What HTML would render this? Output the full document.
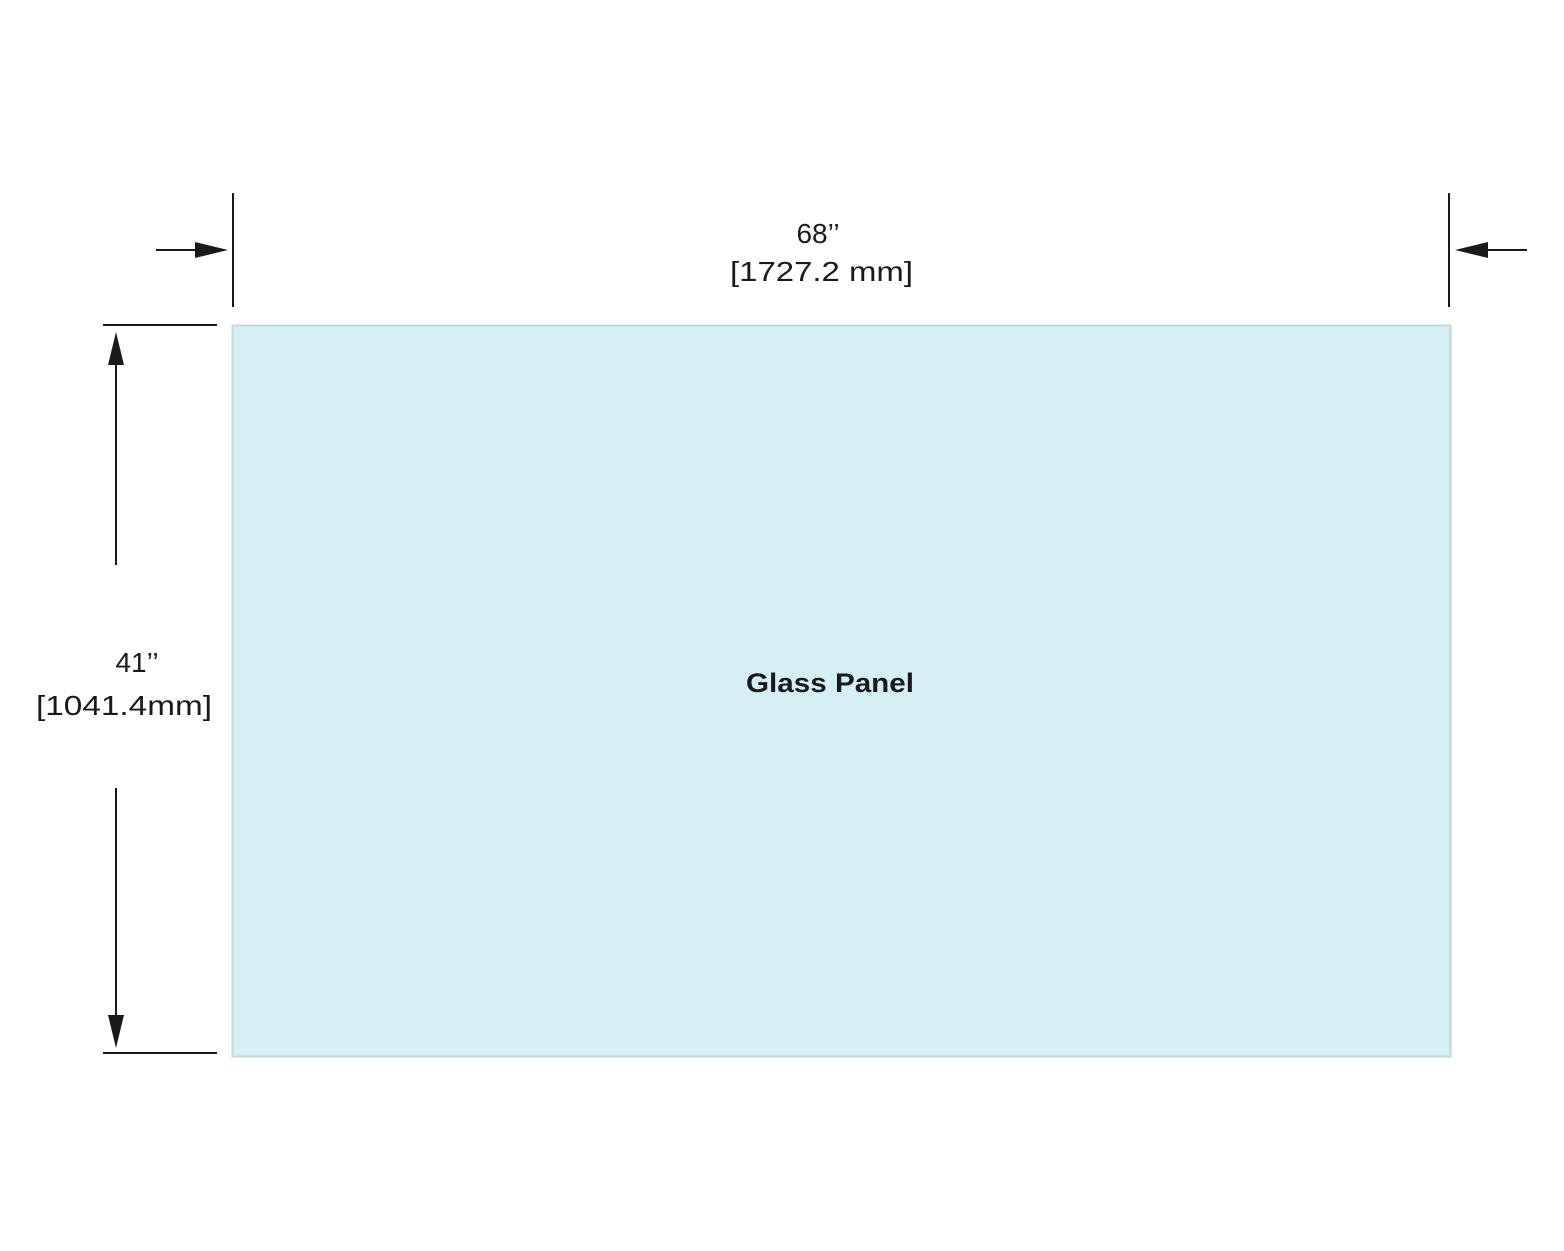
<!DOCTYPE html>
<html><head><meta charset="utf-8"><style>
html,body{margin:0;padding:0;background:#fff}
svg{display:block}
text{font-family:"Liberation Sans",sans-serif;fill:#1a1a1a}
</style></head><body>
<svg width="1564" height="1251" viewBox="0 0 1564 1251" xmlns="http://www.w3.org/2000/svg">
<rect x="232.5" y="325.5" width="1218" height="731" fill="#d4f0f5" stroke="#c2d9d9" stroke-width="2"/>
<g stroke="#1a1a1a" stroke-width="2" fill="none">
<line x1="233" y1="193" x2="233" y2="307"/>
<line x1="1449" y1="193" x2="1449" y2="307"/>
<line x1="156" y1="250" x2="200" y2="250"/>
<line x1="1485" y1="250" x2="1527" y2="250"/>
<line x1="103" y1="325" x2="217" y2="325"/>
<line x1="103" y1="1053" x2="217" y2="1053"/>
<line x1="116" y1="360" x2="116" y2="565"/>
<line x1="116" y1="788" x2="116" y2="1020"/>
</g>
<g fill="#1a1a1a">
<polygon points="195,242 228,250 195,258"/>
<polygon points="1488,242 1455,250 1488,258"/>
<polygon points="108,365 116,332 124,365"/>
<polygon points="108,1015 116,1048 124,1015"/>
</g>
<text x="818" y="243" font-size="28" text-anchor="middle">68’’</text>
<text x="730" y="281" font-size="28" textLength="183" lengthAdjust="spacingAndGlyphs">[1727.2 mm]</text>
<text x="137" y="672" font-size="28" text-anchor="middle">41’’</text>
<text x="36" y="715" font-size="28" textLength="176" lengthAdjust="spacingAndGlyphs">[1041.4mm]</text>
<text x="746" y="692" font-size="27" font-weight="bold" textLength="168" lengthAdjust="spacingAndGlyphs">Glass Panel</text>
</svg>
</body></html>
